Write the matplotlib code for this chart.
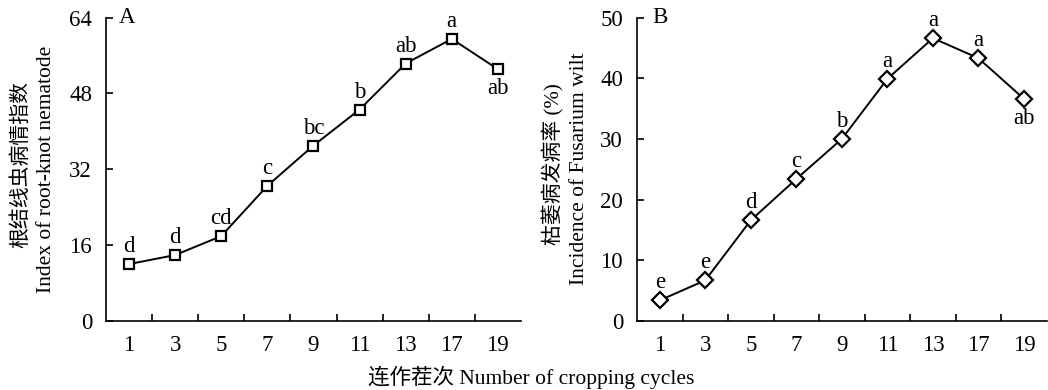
import matplotlib.pyplot as plt

# cropping cycles and values
cycles = ["1", "3", "5", "7", "9", "11", "13", "17", "19"]
nematode_index = [12.0, 13.9, 17.9, 28.5, 37.0, 44.6, 54.3, 59.5, 53.1]
nematode_letters = ["d", "d", "cd", "c", "bc", "b", "ab", "a", "ab"]
wilt_incidence = [3.4, 6.7, 16.6, 23.4, 30.0, 39.9, 46.6, 43.3, 36.6]
wilt_letters = ["e", "e", "d", "c", "b", "a", "a", "a", "ab"]

plt.rcParams['font.family'] = ['Liberation Serif', 'Noto Sans CJK SC']
plt.rcParams['font.size'] = 15


def draw_panel(ax, values, letters, marker, ymax, yticks, tag, tag_x):
    x = list(range(len(cycles)))
    ax.plot(x, values, color="black", lw=1.4, marker=marker, ms=7.5 if marker == "s" else 8.5,
            mfc="white", mec="black", mew=1.6)
    for i, (v, lab) in enumerate(zip(values, letters)):
        dy = -14 if i == len(values) - 1 else 12.5
        ax.annotate(lab, (i, v), xytext=(0, dy), textcoords="offset points",
                    ha="center", va="center", fontsize=16.5)
    ax.set_xlim(-0.5, len(cycles) - 0.5)
    ax.set_ylim(0, ymax)
    ax.set_yticks(yticks)
    ax.set_xticks([i + 0.5 for i in range(len(cycles) - 1)])
    ax.set_xticklabels([])
    ax.set_xticks(x, minor=True)
    ax.set_xticklabels(cycles, minor=True)
    ax.tick_params(axis="x", which="minor", length=0, pad=10, labelsize=16.5)
    ax.tick_params(axis="x", which="major", direction="in", length=5, width=1.2)
    ax.tick_params(axis="y", direction="in", length=5, width=1.2, pad=10, labelsize=16.5)
    ax.spines["top"].set_visible(False)
    ax.spines["right"].set_visible(False)
    for s in ("left", "bottom"):
        ax.spines[s].set_linewidth(1.2)
    ax.text(tag_x, 1.0, tag, transform=ax.transAxes, ha="center", va="center", fontsize=16.5)


fig = plt.figure(figsize=(10.48, 3.9), dpi=100)
axA = fig.add_axes([0.1011, 0.177, 0.396, 0.778])
axB = fig.add_axes([0.6078, 0.177, 0.391, 0.778])

draw_panel(axA, nematode_index, nematode_letters, "s", 64, [0, 16, 32, 48, 64], "A", 0.05)
draw_panel(axB, wilt_incidence, wilt_letters, "D", 50, [0, 10, 20, 30, 40, 50], "B", 0.056)

fig.text(21 / 1048, 1 - 164 / 390, "根结线虫病情指数", rotation=90, ha="center", va="center", fontsize=15)
fig.text(47 / 1048, 1 - 169 / 390, "Index of root-knot nematode", rotation=90, ha="center", va="center", fontsize=15.5)
fig.text(553 / 1048, 1 - 164 / 390, "枯萎病发病率 (%)", rotation=90, ha="center", va="center", fontsize=15)
fig.text(580 / 1048, 1 - 169 / 390, "Incidence of Fusarium wilt", rotation=90, ha="center", va="center", fontsize=15.5)
fig.text(531 / 1048, 1 - 377 / 390, "连作茬次 Number of cropping cycles", ha="center", va="center", fontsize=15.5)

fig.savefig("out.png", dpi=100)
